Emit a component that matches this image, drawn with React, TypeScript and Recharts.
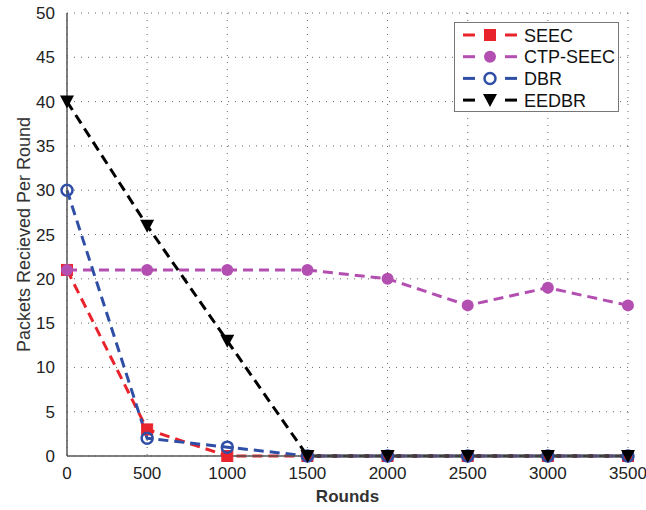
import React from 'react';
import { LineChart, Line, XAxis, YAxis, CartesianGrid } from 'recharts';

// rounds on the x axis
const rounds = [0, 500, 1000, 1500, 2000, 2500, 3000, 3500];
const seec = [21, 3, 0, 0, 0, 0, 0, 0];
const ctpSeec = [21, 21, 21, 21, 20, 17, 19, 17];
const dbr = [30, 2, 1, 0, 0, 0, 0, 0];
const eedbr = [40, 26, 13, 0, 0, 0, 0, 0];
const xTicks = [0, 500, 1000, 1500, 2000, 2500, 3000, 3500];
const yTicks = [0, 5, 10, 15, 20, 25, 30, 35, 40, 45, 50];

const data = rounds.map((r, i) => ({
  round: r,
  seec: seec[i],
  ctp: ctpSeec[i],
  dbr: dbr[i],
  eedbr: eedbr[i],
}));

const RED = '#e8232b';
const MAGENTA = '#b34fb0';
const BLUE = '#2f4fa6';
const BLACK = '#000000';

type Shape = 'square' | 'circle' | 'ring' | 'tri';

const Marker = ({ shape, cx, cy, color }: { shape: Shape; cx: number; cy: number; color: string }) => {
  if (shape === 'square')
    return <rect x={cx - 5.5} y={cy - 5.5} width={11} height={11} fill={color} stroke={color} strokeWidth={1} />;
  if (shape === 'circle') return <circle cx={cx} cy={cy} r={6} fill={color} />;
  if (shape === 'ring') return <circle cx={cx} cy={cy} r={5.5} fill="none" stroke={color} strokeWidth={2.5} />;
  return <path d={`M${cx - 7},${cy - 6} L${cx + 7},${cy - 6} L${cx},${cy + 7} Z`} fill={color} />;
};

const dot = (shape: Shape, color: string) => (props: any) => {
  const { cx, cy, index } = props;
  if (cx == null || cy == null) return <g key={index} />;
  return (
    <g key={index}>
      <Marker shape={shape} cx={cx} cy={cy} color={color} />
    </g>
  );
};

const legendItems: { name: string; color: string; shape: Shape }[] = [
  { name: 'SEEC', color: RED, shape: 'square' },
  { name: 'CTP-SEEC', color: MAGENTA, shape: 'circle' },
  { name: 'DBR', color: BLUE, shape: 'ring' },
  { name: 'EEDBR', color: BLACK, shape: 'tri' },
];

// matlab style legend box, sits on top of the plot
const LegendBox = () => (
  <svg width={165} height={90} style={{ display: 'block' }}>
    <rect x={0.5} y={0.5} width={164} height={89} fill="#fff" stroke="#777" strokeWidth={1} />
    {legendItems.map((it, i) => {
      const y = 13 + i * 21.7;
      return (
        <g key={it.name}>
          <line x1={9} y1={y} x2={21} y2={y} stroke={it.color} strokeWidth={3} />
          <line x1={51} y1={y} x2={63} y2={y} stroke={it.color} strokeWidth={3} />
          <Marker shape={it.shape} cx={36} cy={y} color={it.color} />
          <text x={70} y={y + 6.5} fontSize={18} fontFamily="Liberation Sans, Arial, sans-serif" fill="#111">
            {it.name}
          </text>
        </g>
      );
    })}
  </svg>
);

const tickStyle = { fill: '#222', fontSize: 17, fontFamily: 'Liberation Sans, Arial, sans-serif' };

export default function App() {
  return (
    <div style={{ position: 'absolute', left: 0, top: 0, width: 646, height: 510, background: '#fff' }}>
      <LineChart width={646} height={510} data={data} margin={{ top: 13, right: 18, bottom: 24, left: 0 }}>
        <CartesianGrid stroke="#666" strokeDasharray="1 6" />
        <XAxis
          dataKey="round"
          type="number"
          domain={[0, 3500]}
          ticks={xTicks}
          tick={tickStyle}
          tickLine={false}
          height={30}
          axisLine={{ stroke: '#555', strokeWidth: 1.5 }}
          tickMargin={5}
          label={{ value: 'Rounds', position: 'insideBottom', offset: -16, style: { ...tickStyle, fontSize: 17, fontWeight: 'bold', fill: '#333' } }}
        />
        <XAxis
          xAxisId="top"
          orientation="top"
          dataKey="round"
          type="number"
          domain={[0, 3500]}
          ticks={xTicks}
          tick={false}
          tickLine={false}
          height={0}
          axisLine={{ stroke: '#555', strokeWidth: 1.5 }}
        />
        <YAxis
          type="number"
          domain={[0, 50]}
          ticks={yTicks}
          tick={tickStyle}
          tickLine={false}
          width={67}
          tickMargin={6}
          axisLine={{ stroke: '#555', strokeWidth: 1.5 }}
          label={{ value: 'Packets Recieved Per Round', angle: -90, position: 'center', dx: -10, style: { ...tickStyle, fontSize: 18, fill: '#333' } }}
          interval={0}
        />
        <YAxis
          yAxisId="right"
          orientation="right"
          type="number"
          domain={[0, 50]}
          ticks={yTicks}
          tick={false}
          tickLine={false}
          width={0}
          axisLine={{ stroke: '#555', strokeWidth: 1.5 }}
        />
        <Line dataKey="seec" name="SEEC" stroke={RED} strokeWidth={3} strokeDasharray="10 6" dot={dot('square', RED)} isAnimationActive={false} />
        <Line dataKey="ctp" name="CTP-SEEC" stroke={MAGENTA} strokeWidth={3} strokeDasharray="10 6" dot={dot('circle', MAGENTA)} isAnimationActive={false} />
        <Line dataKey="dbr" name="DBR" stroke={BLUE} strokeWidth={3} strokeDasharray="10 6" dot={dot('ring', BLUE)} isAnimationActive={false} />
        <Line dataKey="eedbr" name="EEDBR" stroke={BLACK} strokeWidth={3} strokeDasharray="10 6" dot={dot('tri', BLACK)} isAnimationActive={false} />
      </LineChart>
      <div style={{ position: 'absolute', left: 454, top: 22 }}>
        <LegendBox />
      </div>
    </div>
  );
}
